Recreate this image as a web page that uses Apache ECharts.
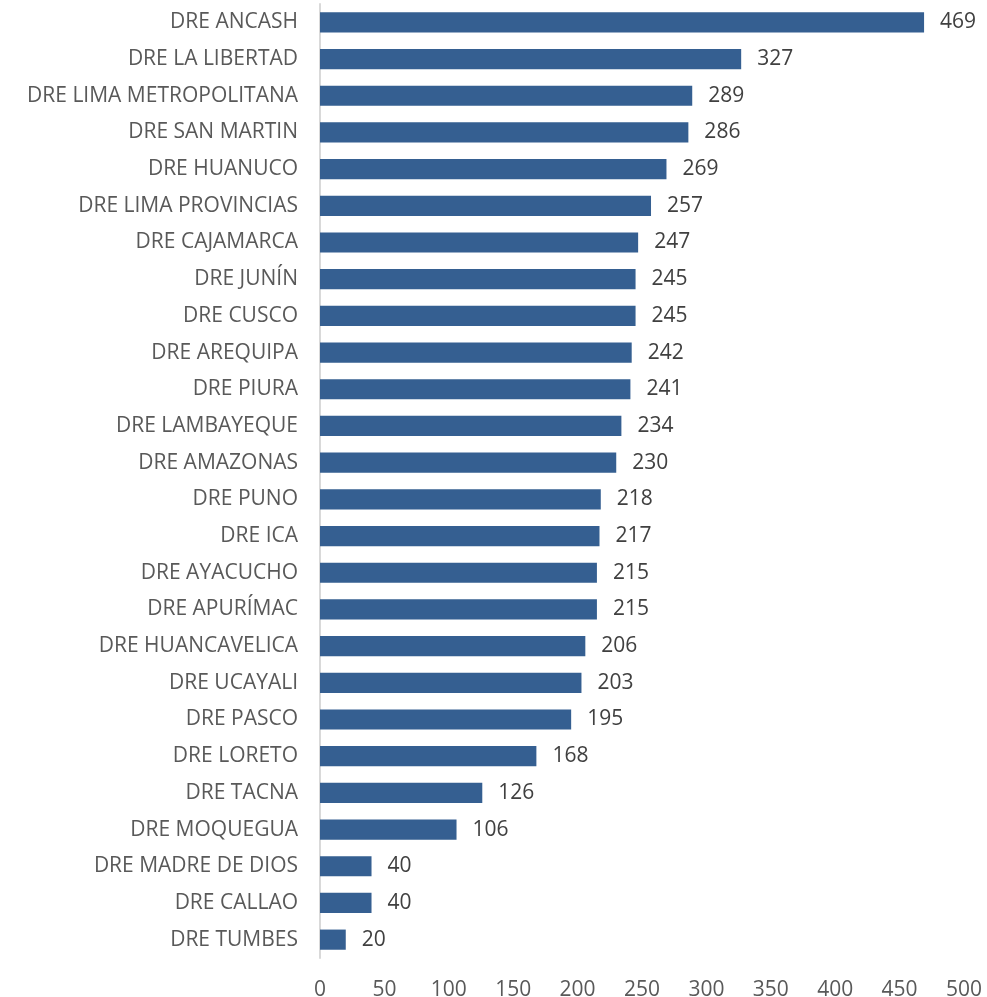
<!DOCTYPE html>
<html>
<head>
<meta charset="utf-8">
<script src="https://cdn.jsdelivr.net/npm/echarts@6/dist/echarts.min.js"></script>
<style>
  html, body { margin: 0; padding: 0; background: #fff; }
  #chart { width: 987px; height: 997px; }
</style>
</head>
<body>
<div id="chart"></div>
<script>
  // categories top to bottom, as in the picture
  var regiones = ['DRE ANCASH', 'DRE LA LIBERTAD', 'DRE LIMA METROPOLITANA', 'DRE SAN MARTIN', 'DRE HUANUCO',
    'DRE LIMA PROVINCIAS', 'DRE CAJAMARCA', 'DRE JUNÍN', 'DRE CUSCO', 'DRE AREQUIPA', 'DRE PIURA',
    'DRE LAMBAYEQUE', 'DRE AMAZONAS', 'DRE PUNO', 'DRE ICA', 'DRE AYACUCHO', 'DRE APURÍMAC',
    'DRE HUANCAVELICA', 'DRE UCAYALI', 'DRE PASCO', 'DRE LORETO', 'DRE TACNA', 'DRE MOQUEGUA',
    'DRE MADRE DE DIOS', 'DRE CALLAO', 'DRE TUMBES']
  var valores = [469, 327, 289, 286, 269, 257, 247, 245, 245, 242, 241, 234, 230, 218, 217, 215, 215,
    206, 203, 195, 168, 126, 106, 40, 40, 20]

  var chart = echarts.init(document.getElementById('chart'))
  var fuente = '"Open Sans", "Noto Sans", sans-serif'
  var option = {
    animation: false,
    grid: { left: 320, right: 23, top: 4, bottom: 39, containLabel: false, outerBoundsMode: 'none' },
    xAxis: {
      type: 'value',
      min: 0,
      max: 500,
      interval: 50,
      axisLine: { show: false },
      axisTick: { show: false },
      splitLine: { show: false },
      axisLabel: { color: '#595959', fontSize: 21, fontFamily: fuente, margin: 22 }
    },
    yAxis: {
      type: 'category',
      inverse: true,
      data: regiones,
      axisLine: { show: true, lineStyle: { color: '#d9d9d9', width: 2 } },
      axisTick: { show: false },
      axisLabel: { color: '#595959', fontSize: 21, fontFamily: fuente, margin: 22, padding: [4, 0, 0, 0] }
    },
    series: [{
      type: 'bar',
      data: valores,
      barCategoryGap: '45%',
      itemStyle: { color: '#355f91' },
      label: {
        show: true,
        position: 'right',
        distance: 16,
        color: '#404040',
        fontSize: 21,
        fontFamily: fuente,
        padding: [4, 0, 0, 0]
      }
    }]
  }
  chart.setOption(option)
  window.onresize = function () {
    chart.resize()
  }
</script>
</body>
</html>
